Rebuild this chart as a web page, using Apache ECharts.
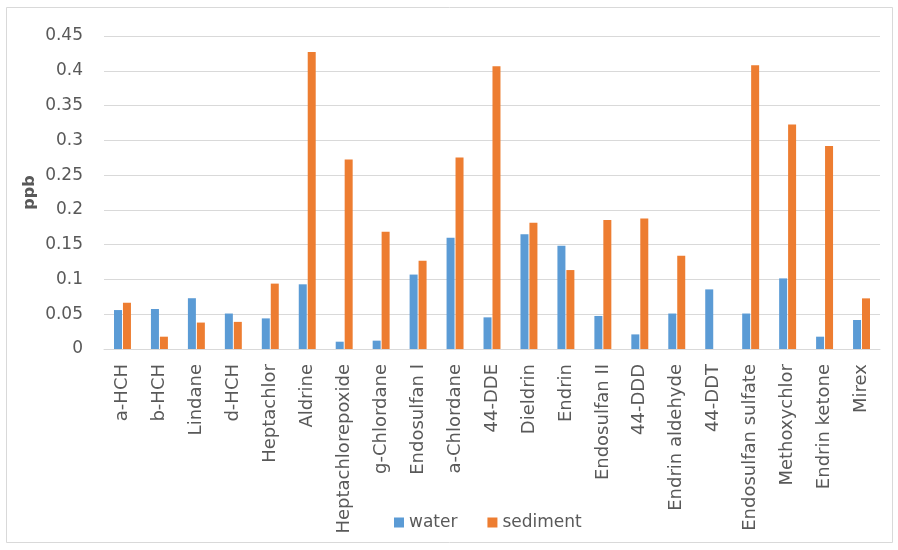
<!DOCTYPE html>
<html>
<head>
<meta charset="utf-8">
<script src="https://cdn.jsdelivr.net/npm/echarts@6/dist/echarts.min.js"></script>
<style>
html,body{margin:0;padding:0;background:#fff;}
#chart{width:898px;height:550px;}
</style>
</head>
<body>
<div id="chart"></div>
<script>
const categories = ["a-HCH","b-HCH","Lindane","d-HCH","Heptachlor","Aldrine","Heptachlorepoxide","g-Chlordane","Endosulfan I","a-Chlordane","44-DDE","Dieldrin","Endrin","Endosulfan II","44-DDD","Endrin aldehyde","44-DDT","Endosulfan sulfate","Methoxychlor","Endrin ketone","Mirex"];
const water =    [0.056,0.0575,0.073,0.051,0.044,0.093,0.0105,0.012,0.107,0.160,0.0455,0.165,0.1485,0.0475,0.021,0.051,0.0857,0.051,0.1015,0.0177,0.0417];
const sediment = [0.0665,0.0177,0.038,0.039,0.094,0.427,0.2725,0.1686,0.127,0.2754,0.4066,0.1815,0.1135,0.1853,0.1877,0.134,0,0.408,0.3228,0.292,0.0728];
const yTicks = {min:0, max:0.45, interval:0.05};

const FONT = 'DejaVu Sans';
const chart = echarts.init(document.getElementById('chart'));
chart.setOption({
  animation:false,
  backgroundColor:'#fff',
  textStyle:{fontFamily:FONT},
  graphic:[{type:'rect',shape:{x:6.5,y:7.5,width:886,height:535},style:{fill:'none',stroke:'#d9d9d9',lineWidth:1},silent:true}],
  grid:{left:104,right:18,top:36,bottom:201},
  legend:{
    data:['water','sediment'],
    left:389, top:509,
    itemWidth:10, itemHeight:10, itemGap:30,
    icon:'rect',
    textStyle:{color:'#595959',fontSize:17,fontFamily:FONT}
  },
  xAxis:{
    type:'category', data:categories,
    axisLine:{lineStyle:{color:'#d9d9d9'}},
    axisTick:{show:false},
    axisLabel:{rotate:90,interval:0,color:'#595959',fontSize:18,margin:15,fontFamily:FONT}
  },
  yAxis:{
    type:'value', min:yTicks.min, max:yTicks.max, interval:yTicks.interval,
    name:'ppb', nameLocation:'middle', nameGap:66, nameRotate:90, nameMoveOverlap:false,
    nameTextStyle:{color:'#595959',fontSize:16,fontWeight:'bold',fontFamily:FONT},
    axisLine:{show:false}, axisTick:{show:false},
    axisLabel:{color:'#595959',fontSize:17,margin:21,fontFamily:FONT,
      formatter:v=>String(Math.round(v*100)/100)},
    splitLine:{lineStyle:{color:'#d9d9d9'}}
  },
  series:[
    {name:'water',type:'bar',data:water,barWidth:8,barGap:'12%',itemStyle:{color:'#5B9BD5'}},
    {name:'sediment',type:'bar',data:sediment,barWidth:8,itemStyle:{color:'#ED7D31'}}
  ]
});
</script>
</body>
</html>
